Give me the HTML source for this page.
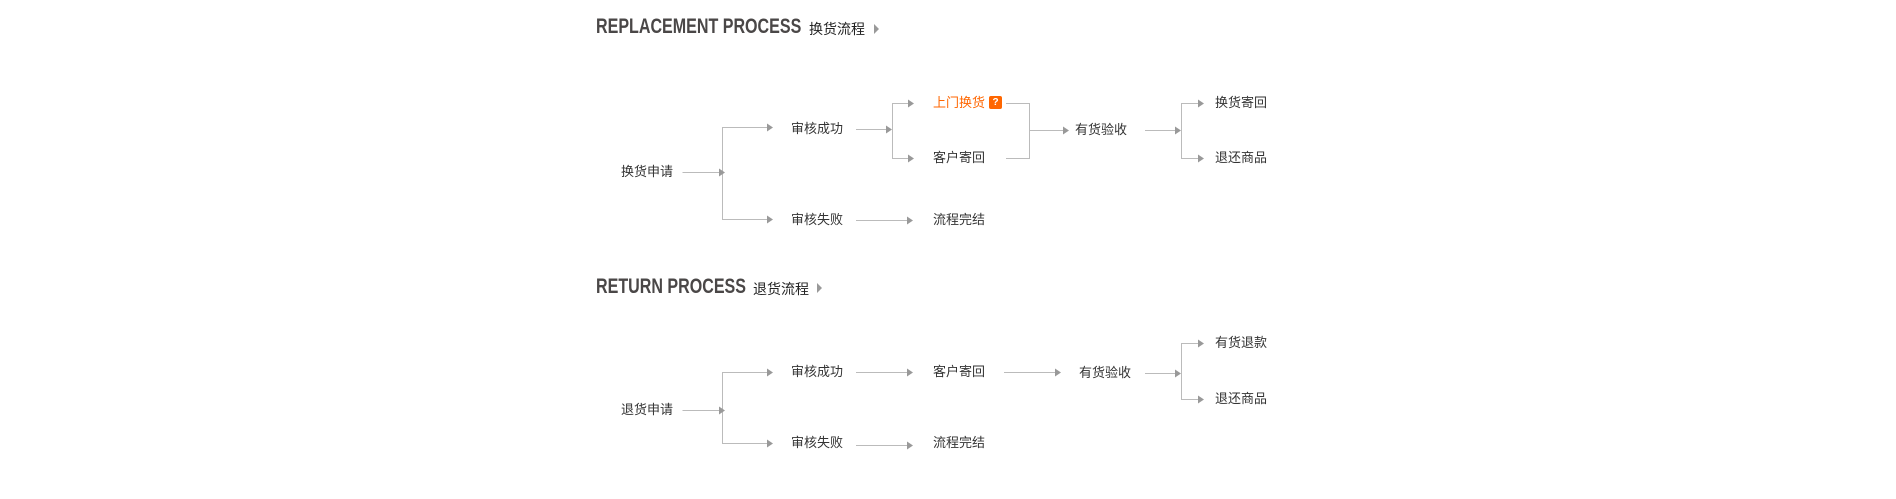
<!DOCTYPE html>
<html><head><meta charset="utf-8"><style>
body{margin:0;background:#fff;width:1896px;height:499px;overflow:hidden;position:relative;font-family:"Liberation Sans","Noto Sans CJK SC",sans-serif}
.t{position:absolute;font-size:13px;line-height:16px;color:#333;white-space:nowrap}
.h{position:absolute;font-weight:bold;font-size:21px;line-height:22px;color:#4a4747;transform:scaleX(0.765);transform-origin:0 0;white-space:nowrap;letter-spacing:0px}
.hc{position:absolute;font-size:14px;line-height:16px;color:#222;white-space:nowrap}
svg{position:absolute;left:0;top:0}
</style></head><body>
<div class="h" style="left:596px;top:16px">REPLACEMENT PROCESS</div>
<div class="hc" style="left:809px;top:21px">换货流程</div>
<div class="h" style="left:596px;top:276px">RETURN PROCESS</div>
<div class="hc" style="left:753px;top:281px">退货流程</div>

<div class="t" style="left:621px;top:164px">换货申请</div>
<div class="t" style="left:791px;top:121px">审核成功</div>
<div class="t" style="left:791px;top:212px">审核失败</div>
<div class="t" style="left:933px;top:95px;color:#ff6600">上门换货</div>
<div style="position:absolute;left:989px;top:96px;width:13px;height:13px;background:#ff6600;border-radius:2px;color:#fff;font:bold 10px/13px 'Liberation Sans',sans-serif;text-align:center">?</div>
<div class="t" style="left:933px;top:150px">客户寄回</div>
<div class="t" style="left:933px;top:212px">流程完结</div>
<div class="t" style="left:1075px;top:122px">有货验收</div>
<div class="t" style="left:1215px;top:95px">换货寄回</div>
<div class="t" style="left:1215px;top:150px">退还商品</div>

<div class="t" style="left:621px;top:402px">退货申请</div>
<div class="t" style="left:791px;top:364px">审核成功</div>
<div class="t" style="left:791px;top:435px">审核失败</div>
<div class="t" style="left:933px;top:364px">客户寄回</div>
<div class="t" style="left:933px;top:435px">流程完结</div>
<div class="t" style="left:1079px;top:365px">有货验收</div>
<div class="t" style="left:1215px;top:335px">有货退款</div>
<div class="t" style="left:1215px;top:391px">退还商品</div>

<svg width="1896" height="499">
<defs><path id="a" d="M0,-4 L6,0 L0,4 Z" fill="#999"/></defs>
<g fill="none" stroke="#bbb" stroke-width="1">
<path d="M682.5,172.5H722"/>
<path d="M722.5,127V219.5"/>
<path d="M722,127.5H768M722,219.5H768"/>
<path d="M856,129.5H888"/>
<path d="M892.5,103V158.5"/>
<path d="M892,103.5H910M892,158.5H910"/>
<path d="M1006,103.5H1029.5V158.5H1006M1029,130.5H1064"/>
<path d="M1145,130.5H1176"/>
<path d="M1181.5,103V158.5"/>
<path d="M1181,103.5H1199M1181,158.5H1199"/>
<path d="M856,220.5H908"/>
<path d="M682.5,410.5H722"/>
<path d="M722.5,372V443.5"/>
<path d="M722,372.5H768M722,443.5H768"/>
<path d="M856,372.5H908"/>
<path d="M1004,372.5H1056"/>
<path d="M1145,373.5H1176"/>
<path d="M1181.5,343V399.5"/>
<path d="M1181,343.5H1199M1181,399.5H1199"/>
<path d="M856,445.5H908"/>
</g>
<g>
<use href="#a" x="719" y="172.5"/>
<use href="#a" x="767" y="127.5"/><use href="#a" x="767" y="219.5"/>
<use href="#a" x="886" y="129.5"/>
<use href="#a" x="908" y="103.5"/><use href="#a" x="908" y="158.5"/>
<use href="#a" x="1063" y="130.5"/>
<use href="#a" x="1175" y="130.5"/>
<use href="#a" x="1198" y="103.5"/><use href="#a" x="1198" y="158.5"/>
<use href="#a" x="907" y="220.5"/>
<use href="#a" x="719" y="410.5"/>
<use href="#a" x="767" y="372.5"/><use href="#a" x="767" y="443.5"/>
<use href="#a" x="907" y="372.5"/>
<use href="#a" x="1055" y="372.5"/>
<use href="#a" x="1175" y="373.5"/>
<use href="#a" x="1198" y="343.5"/><use href="#a" x="1198" y="399.5"/>
<use href="#a" x="907" y="445.5"/>
<path d="M874,24L879,29L874,34Z" fill="#999"/>
<path d="M817,283L822,288L817,293Z" fill="#999"/>
</g>
</svg>
</body></html>
